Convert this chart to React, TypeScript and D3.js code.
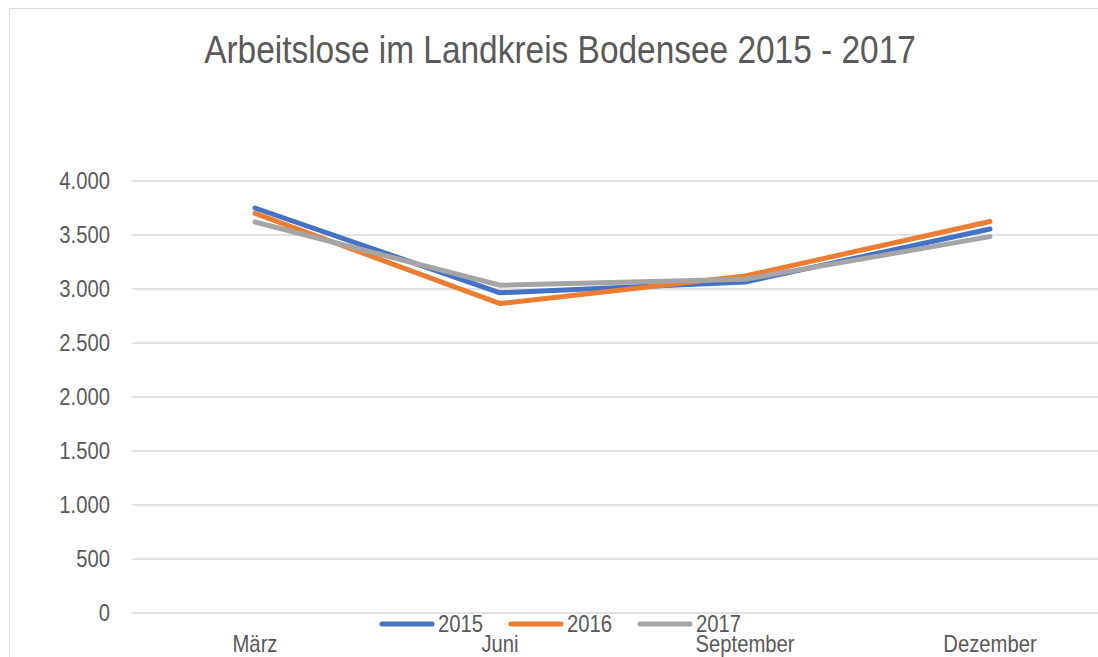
import { useRef, useEffect } from "react";
import * as d3 from "d3";

const months = ["März", "Juni", "September", "Dezember"];
const years = ["2015", "2016", "2017"];
const values2015 = [3750, 2965, 3065, 3555];
const values2016 = [3700, 2865, 3120, 3625];
const values2017 = [3620, 3035, 3090, 3485];
const yTicks = [0, 500, 1000, 1500, 2000, 2500, 3000, 3500, 4000];
const colors = ["#4472C4", "#ED7D31", "#A5A5A5"];

const FONT = "'Liberation Sans', Arial, sans-serif";
// the original font is a narrow one, so squeeze the glyphs a bit
const SQUEEZE = 0.88;

export default function App() {
  const svgRef = useRef<SVGSVGElement>(null);

  useEffect(() => {
    const svg = d3.select(svgRef.current);
    svg.selectAll("*").remove();

    const width = 1098;
    const height = 657;

    svg.attr("width", width).attr("height", height);

    // chart frame, cut off at the right and bottom like the screenshot
    svg
      .append("rect")
      .attr("x", 9.5)
      .attr("y", 8.5)
      .attr("width", 1200)
      .attr("height", 800)
      .attr("fill", "#fff")
      .attr("stroke", "#D9D9D9")
      .attr("stroke-width", 1);

    svg
      .append("text")
      .attr("transform", `translate(560, 63) scale(${SQUEEZE}, 1)`)
      .attr("text-anchor", "middle")
      .style("font-family", FONT)
      .attr("font-size", "38px")
      .attr("fill", "#595959")
      .text("Arbeitslose im Landkreis Bodensee 2015 - 2017");

    const x = d3.scaleBand().domain(months).range([132.5, 1112.5]);
    const y = d3.scaleLinear().domain([0, 4000]).range([613, 181]);
    const fmt = d3.formatLocale({
      decimal: ",",
      thousands: ".",
      grouping: [3],
      currency: ["", "€"],
    }).format(",d");

    // gridlines
    svg
      .append("g")
      .selectAll("line")
      .data(yTicks)
      .join("line")
      .attr("x1", 132.5)
      .attr("x2", 1112.5)
      .attr("y1", (d) => y(d))
      .attr("y2", (d) => y(d))
      .attr("stroke", "#D9D9D9")
      .attr("stroke-width", 1.5);

    svg
      .append("g")
      .selectAll("text")
      .data(yTicks)
      .join("text")
      .attr("transform", (d) => `translate(110, ${y(d)}) scale(${SQUEEZE}, 1)`)
      .attr("dy", "0.35em")
      .attr("text-anchor", "end")
      .style("font-family", FONT)
      .attr("font-size", "23px")
      .attr("fill", "#595959")
      .text((d) => fmt(d));

    svg
      .append("g")
      .selectAll("text")
      .data(months)
      .join("text")
      .attr(
        "transform",
        (d) => `translate(${x(d)! + x.bandwidth() / 2}, 652) scale(${SQUEEZE}, 1)`
      )
      .attr("text-anchor", "middle")
      .style("font-family", FONT)
      .attr("font-size", "23px")
      .attr("fill", "#595959")
      .text((d) => d);

    const series = [values2015, values2016, values2017];
    const line = d3
      .line<number>()
      .x((_, i) => x(months[i])! + x.bandwidth() / 2)
      .y((d) => y(d));

    svg
      .append("g")
      .selectAll("path")
      .data(series)
      .join("path")
      .attr("d", (d) => line(d))
      .attr("fill", "none")
      .attr("stroke", (_, i) => colors[i])
      .attr("stroke-width", 5)
      .attr("stroke-linecap", "round")
      .attr("stroke-linejoin", "round");

    // legend sits over the axis labels
    const legend = svg
      .append("g")
      .attr("transform", "translate(382, 624)");

    const items = legend
      .selectAll("g")
      .data(years)
      .join("g")
      .attr("transform", (_, i) => `translate(${i * 129}, 0)`);

    items
      .append("line")
      .attr("x1", 0)
      .attr("x2", 50)
      .attr("stroke", (_, i) => colors[i])
      .attr("stroke-width", 5)
      .attr("stroke-linecap", "round");

    items
      .append("text")
      .attr("transform", `translate(56, 0) scale(${SQUEEZE}, 1)`)
      .attr("dy", "0.35em")
      .style("font-family", FONT)
      .attr("font-size", "23px")
      .attr("fill", "#595959")
      .text((d) => d);
  }, []);

  return (
    <svg
      ref={svgRef}
      style={{ position: "absolute", left: 0, top: 0, display: "block" }}
    />
  );
}
